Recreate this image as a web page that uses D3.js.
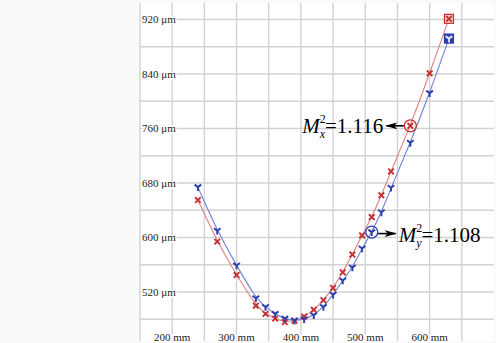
<!DOCTYPE html>
<html>
<head>
<meta charset="utf-8">
<script src="https://cdn.jsdelivr.net/npm/d3@7"></script>
<style>
  html, body { margin: 0; padding: 0; background: #fafafa; }
  svg { display: block; }
</style>
</head>
<body>
<figure id="beam" style="margin:0"></figure>
<script>
// positions along the propagation axis (mm)
const posMm = [240, 270, 300, 330, 345, 360, 375, 390, 405, 420, 435, 450, 465, 480, 495, 510, 525, 540, 570, 600, 630];
// measured beam width in x (µm)
const widthX = [655, 594, 545, 500, 488, 481, 476, 478, 484, 494, 508, 526, 549, 575, 603, 630, 662, 697, 764, 841, 921];
// measured beam width in y (µm)
const widthY = [674, 610, 559, 511, 498, 488, 481, 478, 480, 486, 498, 516, 537, 556, 584, 608, 637, 673, 739, 812, 892];

const xTicks = [200, 300, 400, 500, 600];
const yTicks = [520, 600, 680, 760, 840, 920];
const xGrid = [200, 250, 300, 350, 400, 450, 500, 550, 600, 650];
const yGrid = [480, 520, 560, 600, 640, 680, 720, 760, 800, 840, 880, 920];

const m2Labels = [
  { axis: 'x', value: '1.116', pos: 570 },
  { axis: 'y', value: '1.108', pos: 510 }
];

const width = 496, height = 343;
const redLine = '#da8282', redMark = '#c62f33';
const blueLine = '#7180d2', blueMark = '#2b3fae';
const serif = '"Liberation Serif", "DejaVu Serif", serif';

const svg = d3.select('figure#beam')
  .append('svg')
  .attr('width', width)
  .attr('height', height);

const x = d3.scaleLinear().domain([150, 700]).range([140, 494]);
const y = d3.scaleLinear().domain([480, 920]).range([319.3, 19.5]);

// plot background
svg.append('rect')
  .attr('x', x(150)).attr('y', 3)
  .attr('width', x(700) - x(150)).attr('height', 338)
  .attr('fill', '#ffffff');

// grid
svg.append('g').selectAll('line')
  .data(xGrid.concat([150]))
  .enter().append('line')
  .attr('x1', d => x(d)).attr('x2', d => x(d))
  .attr('y1', 3).attr('y2', 341)
  .attr('stroke', '#d2d2d2').attr('stroke-width', 1.4);

svg.append('g').selectAll('line')
  .data(yGrid)
  .enter().append('line')
  .attr('x1', x(150)).attr('x2', x(700))
  .attr('y1', d => y(d)).attr('y2', d => y(d))
  .attr('stroke', '#d2d2d2').attr('stroke-width', 1.4);

// tick labels
svg.append('g').selectAll('text')
  .data(yTicks)
  .enter().append('text')
  .attr('x', x(150) + 2)
  .attr('y', d => y(d))
  .attr('dy', '0.33em')
  .attr('font-family', serif).attr('font-size', 11)
  .attr('fill', '#222')
  .attr('stroke', '#fff').attr('stroke-width', 3).attr('paint-order', 'stroke')
  .text(d => d + ' \u03bcm');

svg.append('g').selectAll('text')
  .data(xTicks)
  .enter().append('text')
  .attr('x', d => x(d))
  .attr('y', 341)
  .attr('text-anchor', 'middle')
  .attr('font-family', serif).attr('font-size', 11)
  .attr('fill', '#222')
  .attr('stroke', '#fff').attr('stroke-width', 3).attr('paint-order', 'stroke')
  .text(d => d + ' mm');

// smoothed curves through the measurements
const curve = vals => d3.line()
  .x((d, i) => x(posMm[i]))
  .y(d => y(d))
  .curve(d3.curveBasis)(vals);

svg.append('path')
  .attr('d', curve(widthX))
  .attr('fill', 'none').attr('stroke', redLine).attr('stroke-width', 1.1);

svg.append('path')
  .attr('d', curve(widthY))
  .attr('fill', 'none').attr('stroke', blueLine).attr('stroke-width', 1.1);

const last = posMm.length - 1;

// end boxes
svg.append('rect')
  .attr('x', x(posMm[last]) - 4.5).attr('y', y(widthX[last]) - 4.5)
  .attr('width', 9).attr('height', 9)
  .attr('fill', '#f3d6d6').attr('stroke', redMark).attr('stroke-width', 1.2);

svg.append('rect')
  .attr('x', x(posMm[last]) - 4.5).attr('y', y(widthY[last]) - 4.5)
  .attr('width', 9).attr('height', 9)
  .attr('fill', blueMark).attr('stroke', blueMark).attr('stroke-width', 1.2);

// markers
svg.append('g').selectAll('path')
  .data(widthX)
  .enter().append('path')
  .attr('transform', (d, i) => 'translate(' + x(posMm[i]) + ',' + y(d) + ')')
  .attr('d', 'M-2.8,-2.8L2.8,2.8M-2.8,2.8L2.8,-2.8')
  .attr('stroke', redMark).attr('stroke-width', 1.9).attr('fill', 'none');

svg.append('g').selectAll('path')
  .data(widthY)
  .enter().append('path')
  .attr('transform', (d, i) => 'translate(' + x(posMm[i]) + ',' + y(d) + ')')
  .attr('d', 'M0,0L0,3.8M0,0L-3.3,-2.5M0,0L3.3,-2.5')
  .attr('stroke', (d, i) => i === last ? '#dfe4ff' : blueMark)
  .attr('stroke-width', 2).attr('fill', 'none');

// M² annotations
svg.append('defs').append('marker')
  .attr('id', 'head')
  .attr('viewBox', '0 -5 12 10')
  .attr('refX', 11).attr('refY', 0)
  .attr('markerUnits', 'userSpaceOnUse')
  .attr('markerWidth', 12).attr('markerHeight', 10)
  .attr('orient', 'auto')
  .append('path')
  .attr('d', 'M0,-3.5L12,0L0,3.5L3,0Z')
  .attr('fill', '#000');

m2Labels.forEach(lab => {
  const i = posMm.indexOf(lab.pos);
  const vals = lab.axis === 'x' ? widthX : widthY;
  const cx = x(lab.pos), cy = y(vals[i]);
  const col = lab.axis === 'x' ? redMark : blueMark;
  const dir = lab.axis === 'x' ? -1 : 1;

  svg.append('circle')
    .attr('cx', cx).attr('cy', cy).attr('r', 6)
    .attr('fill', 'none').attr('stroke', col).attr('stroke-width', 1.3);

  svg.append('line')
    .attr('x1', cx + dir * 6.5).attr('y1', cy + (dir > 0 ? 1.5 : 0))
    .attr('x2', cx + dir * 24).attr('y2', cy + (dir > 0 ? 1.5 : 0))
    .attr('stroke', '#000').attr('stroke-width', 1.6)
    .attr('marker-end', 'url(#head)');

  const t = svg.append('text')
    .attr('x', cx + dir * 27)
    .attr('y', cy + (dir > 0 ? 9.5 : 7))
    .attr('text-anchor', dir > 0 ? 'start' : 'end')
    .attr('font-family', serif).attr('font-size', 21)
    .attr('fill', '#000');
  t.append('tspan').attr('font-style', 'italic').text('M');
  t.append('tspan').attr('font-size', 12).attr('dy', -10).text('2');
  t.append('tspan').attr('font-size', 12).attr('font-style', 'italic')
    .attr('dx', -6).attr('dy', 15).text(lab.axis);
  t.append('tspan').attr('dy', -5).text('=' + lab.value);
});
</script>
</body>
</html>
